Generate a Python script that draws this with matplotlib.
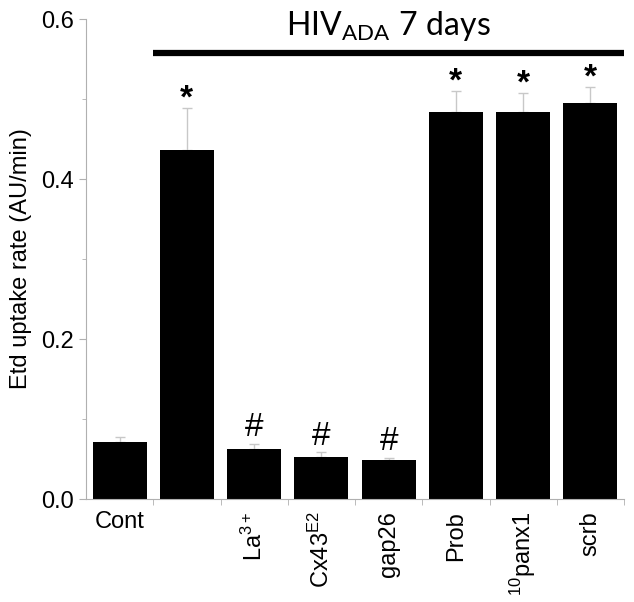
import numpy as np
import matplotlib
matplotlib.use('Agg')
import matplotlib.pyplot as plt
from matplotlib.ticker import MultipleLocator, FixedLocator

# data
groups = ['Cont', '', r'La$^{\mathrm{3+}}$', r'Cx43$^{\mathrm{E2}}$', 'gap26',
          'Prob', r'$^{\mathrm{10}}$panx1', 'scrb']
rates = [0.071, 0.436, 0.0625, 0.0525, 0.049, 0.484, 0.484, 0.495]
errors = [0.0065, 0.053, 0.0065, 0.006, 0.0025, 0.026, 0.0235, 0.020]
marks = ['', '*', '#', '#', '#', '*', '*', '*']

plt.rcParams['font.family'] = ['Liberation Sans', 'DejaVu Sans']
plt.rcParams['mathtext.fontset'] = 'custom'
plt.rcParams['mathtext.rm'] = 'Liberation Sans'
plt.rcParams['mathtext.it'] = 'Liberation Sans:italic'
plt.rcParams['mathtext.sf'] = 'Lato'

fig = plt.figure(figsize=(6.34, 6.02), dpi=100)
ax = fig.add_axes([86 / 634, 1 - 499 / 602, (624 - 86) / 634, (499 - 19) / 602])

x = np.arange(len(rates))
ax.bar(x, rates, width=0.8, color='black', zorder=2)
ax.errorbar(x, rates, yerr=[np.zeros(len(errors)), errors], fmt='none',
            ecolor='#c8c8c8', elinewidth=1.0, capsize=3.3, capthick=1.0, zorder=1)

# significance marks above error bars
for xi, r, e, m in zip(x, rates, errors, marks):
    if m == '*':
        ax.annotate(m, (xi, r + e), xytext=(0, -5), textcoords='offset points',
                    ha='center', va='bottom', fontsize=24, fontweight='bold')
    elif m == '#':
        ax.annotate(m, (xi, r + e), xytext=(0, 0.5), textcoords='offset points',
                    ha='center', va='bottom', fontsize=24)

# HIV bracket and label
ax.plot([0.5, 7.5], [0.5575, 0.5575], color='black', lw=4.5,
        solid_capstyle='butt', clip_on=False)
ax.text(4.0, 0.58, r'$\mathsf{HIV}_{\mathsf{ADA}}\mathsf{\ 7\ days}$',
        ha='center', va='baseline', fontsize=23, clip_on=False)

ax.set_xlim(-0.5, 7.5)
ax.set_ylim(0, 0.6)
ax.set_yticks([0, 0.2, 0.4, 0.6])
ax.set_yticklabels(['0.0', '0.2', '0.4', '0.6'])
ax.yaxis.set_minor_locator(MultipleLocator(0.1))

ax.set_xticks(x)
ax.xaxis.set_minor_locator(FixedLocator(np.arange(0.5, 8, 1.0)))
labels = ax.set_xticklabels(groups, fontsize=17)
for lab in labels[1:]:
    lab.set_rotation(90)
ax.tick_params(axis='x', which='major', length=0, pad=9)
ax.tick_params(axis='x', which='minor', length=4, color='#b0b0b0')
ax.tick_params(axis='y', which='major', length=5, color='#b0b0b0', labelsize=17, pad=4)
ax.tick_params(axis='y', which='minor', length=3, color='#b0b0b0')

for s in ['top', 'right']:
    ax.spines[s].set_visible(False)
for s in ['left', 'bottom']:
    ax.spines[s].set_color('#b0b0b0')
    ax.spines[s].set_linewidth(0.8)

ax.set_ylabel('Etd uptake rate (AU/min)', fontsize=17, labelpad=6)

fig.savefig('out.png', dpi=100)
